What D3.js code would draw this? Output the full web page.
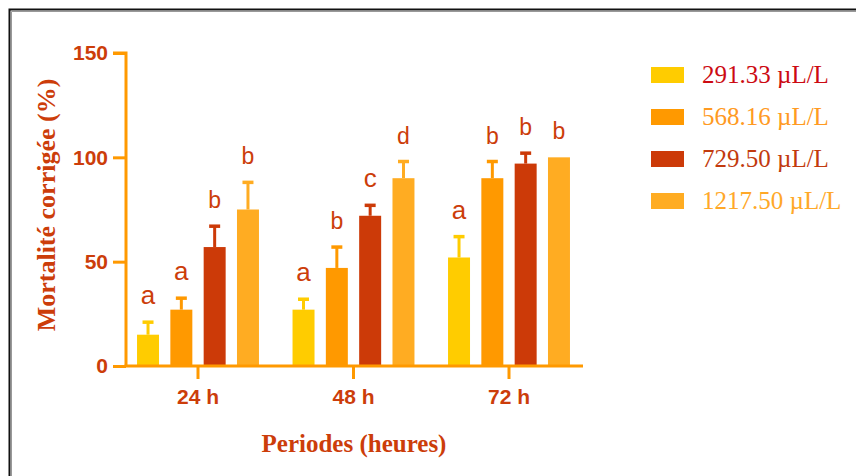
<!DOCTYPE html>
<html>
<head>
<meta charset="utf-8">
<script src="https://cdn.jsdelivr.net/npm/d3@7"></script>
<style>
  html,body{margin:0;padding:0;background:#fff}
  svg{display:block}
</style>
</head>
<body>
<div id="chart"></div>
<script>
// data
const periods = ['24 h', '48 h', '72 h']
const doses = ['291.33 µL/L', '568.16 µL/L', '729.50 µL/L', '1217.50 µL/L']
const mean291 = [15, 27, 52]
const mean568 = [27, 47, 90]
const mean729 = [57, 72, 97]
const mean1217 = [75, 90, 100]
const err291 = [6, 5, 10]
const err568 = [5.5, 10, 8]
const err729 = [10, 5, 5]
const err1217 = [13, 8, 0]
const let291 = ['a', 'a', 'a']
const let568 = ['a', 'b', 'b']
const let729 = ['b', 'c', 'b']
const let1217 = ['b', 'd', 'b']
const yTicks = [0, 50, 100, 150]

const barColors = ['#ffcc00', '#ff9900', '#cc3a08', '#ffac22']
const legendText = ['#cc0a12', '#ff9a22', '#c23a0d', '#ffa828']
const dark = '#cc3d0a'
const axisCol = '#ff9900'

const means = [mean291, mean568, mean729, mean1217]
const errs = [err291, err568, err729, err1217]
const lets = [let291, let568, let729, let1217]

const W = 856, H = 476
const svg = d3.select('#chart').append('svg').attr('width', W).attr('height', H)

// frame (top + left only)
svg.append('path').attr('d', `M9.5,${H} V9.5 H${W}`).attr('fill', 'none').attr('stroke', '#111').attr('stroke-width', 2)
svg.append('path').attr('d', `M11.5,${H} V11.5 H${W}`).attr('fill', 'none').attr('stroke', '#999').attr('stroke-width', 1)

const y = d3.scaleLinear().domain([0, 150]).range([366, 53])
const x0 = d3.scaleBand().domain(periods).range([120.25, 586.75]).paddingInner(0.143).paddingOuter(0.0715)
const x1 = d3.scaleBand().domain(d3.range(doses.length)).range([0, x0.bandwidth()]).paddingInner(0.34).paddingOuter(0.17)

// y axis
const yAxis = svg.append('g').attr('transform', 'translate(126,0)')
  .call(d3.axisLeft(y).tickValues(yTicks).tickSize(13).tickSizeOuter(0).tickPadding(5))
yAxis.select('.domain').attr('stroke', axisCol).attr('stroke-width', 3)
  .attr('d', `M-13,${y(150)}H0V${y(0)}`)
yAxis.selectAll('.tick line').attr('stroke', axisCol).attr('stroke-width', 3)
yAxis.selectAll('.tick text').attr('fill', dark).attr('font-family', 'Liberation Sans, Arial, sans-serif')
  .attr('font-weight', 'bold').attr('font-size', 21)

// bars
const groups = svg.append('g').selectAll('g').data(periods).join('g')
  .attr('transform', d => `translate(${x0(d)},0)`)

groups.each(function(p, pi){
  const g = d3.select(this)
  doses.forEach((dose, si) => {
    const v = means[si][pi], e = errs[si][pi]
    const bx = x1(si), bw = x1.bandwidth(), cx = bx + bw / 2
    const col = barColors[si]
    if(e > 0){
      g.append('line').attr('x1', cx).attr('x2', cx).attr('y1', y(v)).attr('y2', y(v + e))
        .attr('stroke', col).attr('stroke-width', 3)
      g.append('line').attr('x1', cx - 5.5).attr('x2', cx + 5.5).attr('y1', y(v + e)).attr('y2', y(v + e))
        .attr('stroke', col).attr('stroke-width', 3.5)
    }
    g.append('rect').attr('x', bx).attr('width', bw).attr('y', y(v)).attr('height', y(0) - y(v))
      .attr('fill', col)
    const l = lets[si][pi]
    const tall = (l === 'b' || l === 'd')
    g.append('text').attr('x', cx).attr('y', y(v + e) - 18)
      .attr('text-anchor', 'middle').attr('fill', dark)
      .attr('font-family', 'Liberation Sans, Arial, sans-serif')
      .attr('font-size', tall ? 23 : 26)
      .text(l)
  })
})

// x axis
const xAxis = svg.append('g').attr('transform', `translate(0,${y(0)})`)
  .call(d3.axisBottom(x0).tickSize(13).tickSizeOuter(0).tickPadding(10))
xAxis.select('.domain').attr('stroke', axisCol).attr('stroke-width', 3).attr('d', 'M124.5,0H583')
xAxis.selectAll('.tick line').attr('stroke', axisCol).attr('stroke-width', 3)
xAxis.selectAll('.tick text').attr('fill', dark).attr('font-family', 'Liberation Sans, Arial, sans-serif')
  .attr('font-weight', 'bold').attr('font-size', 21)

// axis titles
svg.append('text').attr('transform', 'translate(55,205) rotate(-90)').attr('text-anchor', 'middle')
  .attr('fill', dark).attr('font-family', 'Liberation Serif, Times New Roman, serif')
  .attr('font-weight', 'bold').attr('font-size', 26).text('Mortalité corrigée (%)')
svg.append('text').attr('x', 354).attr('y', 452).attr('text-anchor', 'middle')
  .attr('fill', dark).attr('font-family', 'Liberation Serif, Times New Roman, serif')
  .attr('font-weight', 'bold').attr('font-size', 25).text('Periodes (heures)')

// legend
const leg = svg.append('g').selectAll('g').data(doses).join('g')
  .attr('transform', (d, i) => `translate(651,${67 + i * 42})`)
leg.append('rect').attr('width', 33).attr('height', 16).attr('fill', (d, i) => barColors[i])
leg.append('text').attr('x', 51).attr('y', 16).attr('fill', (d, i) => legendText[i])
  .attr('font-family', 'Liberation Serif, Times New Roman, serif').attr('font-size', 25).text(d => d)
</script>
</body>
</html>
